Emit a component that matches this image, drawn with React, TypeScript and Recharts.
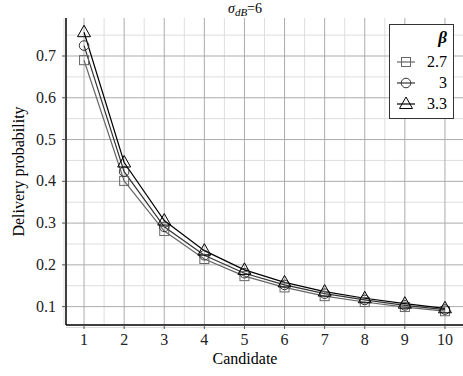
import React from 'react';
import { LineChart, Line, XAxis, YAxis, CartesianGrid } from 'recharts';

const candidates = [1, 2, 3, 4, 5, 6, 7, 8, 9, 10];
const beta27 = [0.69, 0.401, 0.281, 0.214, 0.173, 0.146, 0.125, 0.111, 0.099, 0.089];
const beta30 = [0.725, 0.423, 0.291, 0.223, 0.18, 0.152, 0.131, 0.116, 0.103, 0.093];
const beta33 = [0.757, 0.445, 0.306, 0.234, 0.188, 0.158, 0.136, 0.12, 0.107, 0.096];
const xTicks = [1, 2, 3, 4, 5, 6, 7, 8, 9, 10];
const yTicks = [0.1, 0.2, 0.3, 0.4, 0.5, 0.6, 0.7];
const xMinor = [0.5, 1.5, 2.5, 3.5, 4.5, 5.5, 6.5, 7.5, 8.5, 9.5, 10.5];
const yMinor = [0.05, 0.15, 0.25, 0.35, 0.45, 0.55, 0.65, 0.75];
const seriesNames = ['2.7', '3', '3.3'];
const seriesColors = ['#666666', '#333333', '#000000'];
const seriesShapes = ['square', 'circle', 'triangle'];

const data = candidates.map((c, i) => ({ c, b27: beta27[i], b30: beta30[i], b33: beta33[i] }));

const FONT = '"Liberation Serif", "DejaVu Serif", serif';

function Marker({ shape, cx, cy, color }: { shape: string; cx: number; cy: number; color: string }) {
  if (cx == null || cy == null) return null;
  if (shape === 'square') {
    return <rect x={cx - 4.5} y={cy - 4.5} width={9} height={9} fill="none" stroke={color} strokeWidth={1} />;
  }
  if (shape === 'circle') {
    return <circle cx={cx} cy={cy} r={4.8} fill="none" stroke={color} strokeWidth={1} />;
  }
  return (
    <polygon
      points={`${cx},${cy - 7} ${cx - 6.5},${cy + 4.5} ${cx + 6.5},${cy + 4.5}`}
      fill="none"
      stroke={color}
      strokeWidth={1}
    />
  );
}

const makeDot = (shape: string, color: string) => (props: any) => (
  <Marker key={`${shape}-${props.index}`} shape={shape} cx={props.cx} cy={props.cy} color={color} />
);

function LegendBox() {
  return (
    <div
      style={{
        position: 'absolute',
        left: 389,
        top: 24,
        width: 65,
        height: 95,
        border: '1px solid #333',
        background: '#fff',
        fontFamily: FONT,
        fontSize: 16,
        boxSizing: 'border-box',
      }}
    >
      <div style={{ position: 'absolute', right: 6, top: 3, fontWeight: 'bold', fontStyle: 'italic', fontSize: 17 }}>β</div>
      {seriesNames.map((n, i) => (
        <div key={n} style={{ position: 'absolute', left: 0, right: 0, top: 27 + i * 21, height: 20 }}>
          <svg width={24} height={20} style={{ position: 'absolute', left: 5, top: 0 }}>
            <line x1={2} y1={10} x2={20} y2={10} stroke={seriesColors[i]} strokeWidth={1.2} />
            <Marker shape={seriesShapes[i]} cx={11} cy={10} color={seriesColors[i]} />
          </svg>
          <span style={{ position: 'absolute', right: 6, top: 0, lineHeight: '20px' }}>{n}</span>
        </div>
      ))}
    </div>
  );
}

const YLabel = (props: any) => {
  const vb = props.viewBox || { x: 0, y: 0, height: 0 };
  const x = vb.x + 18;
  const y = vb.y + vb.height / 2;
  return (
    <text
      x={x}
      y={y}
      transform={`rotate(-90, ${x}, ${y})`}
      textAnchor="middle"
      dominantBaseline="central"
      fontFamily={FONT}
      fontSize={16}
      fill="#000"
    >
      Delivery probability
    </text>
  );
};

const XTick = (props: any) => {
  const { x, y, payload } = props;
  return (
    <text x={x} y={y + 13} textAnchor="middle" fontFamily={FONT} fontSize={16} fill="#222">
      {payload.value}
    </text>
  );
};

const YTick = (props: any) => {
  const { x, y, payload } = props;
  return (
    <text x={x} y={y + 5} textAnchor="end" fontFamily={FONT} fontSize={16} fill="#222">
      {Number(payload.value).toFixed(1)}
    </text>
  );
};

export default function App() {
  return (
    <div style={{ position: 'absolute', left: 0, top: 0, width: 463, height: 376, background: '#fff' }}>
      <LineChart width={463} height={376} data={data} margin={{ top: 18, right: 0, bottom: 0, left: 0 }}>
        <CartesianGrid stroke="#dedede" strokeWidth={1} horizontalValues={yMinor} verticalValues={xMinor} />
        <CartesianGrid stroke="#ababab" strokeWidth={1} horizontalValues={yTicks} verticalValues={xTicks} />
        <XAxis
          dataKey="c"
          type="number"
          domain={[0.55, 10.45]}
          ticks={xTicks}
          allowDataOverflow
          height={51}
          tickSize={4}
          tickMargin={3}
          axisLine={{ stroke: '#000', strokeWidth: 1.5 }}
          tickLine={{ stroke: '#555' }}
          tick={<XTick />}
        />
        <YAxis
          type="number"
          domain={[0.056, 0.791]}
          ticks={yTicks}
          allowDataOverflow
          width={66}
          tickSize={4}
          tickMargin={6}
          axisLine={{ stroke: '#000', strokeWidth: 1.5 }}
          tickLine={{ stroke: '#555' }}
          tick={<YTick />}
          label={<YLabel />}
        />
        <Line dataKey="b27" stroke={seriesColors[0]} strokeWidth={1.2} dot={makeDot('square', seriesColors[0])} isAnimationActive={false} />
        <Line dataKey="b30" stroke={seriesColors[1]} strokeWidth={1.2} dot={makeDot('circle', seriesColors[1])} isAnimationActive={false} />
        <Line dataKey="b33" stroke={seriesColors[2]} strokeWidth={1.2} dot={makeDot('triangle', seriesColors[2])} isAnimationActive={false} />
      </LineChart>
      <LegendBox />
      <div
        style={{
          position: 'absolute',
          left: 145,
          width: 200,
          top: 1,
          textAlign: 'center',
          fontFamily: FONT,
          fontSize: 14,
          lineHeight: '16px',
        }}
      >
        <i>σ</i>
        <sub style={{ fontSize: 11, fontStyle: 'italic', verticalAlign: '-3px' }}>dB</sub>=6
      </div>
      <div
        style={{
          position: 'absolute',
          left: 145,
          width: 200,
          top: 350,
          textAlign: 'center',
          fontFamily: FONT,
          fontSize: 16,
          lineHeight: '18px',
        }}
      >
        Candidate
      </div>
    </div>
  );
}
